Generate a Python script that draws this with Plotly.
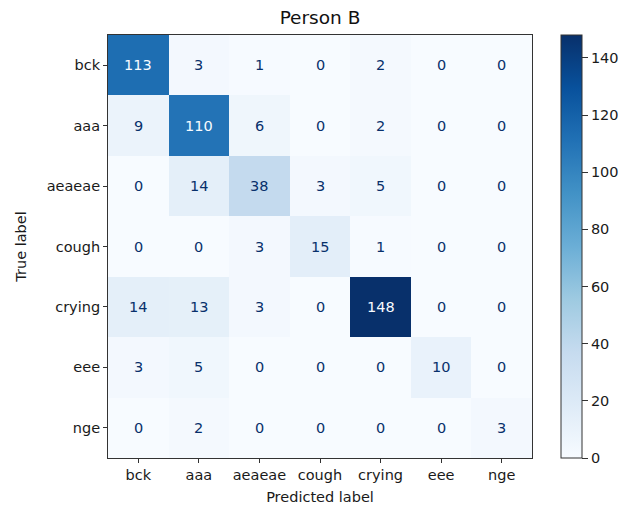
import plotly.graph_objects as go

# Class labels and confusion-matrix counts (rows = true, columns = predicted)
labels = ["bck", "aaa", "aeaeae", "cough", "crying", "eee", "nge"]
counts = [
    [113, 3, 1, 0, 2, 0, 0],
    [9, 110, 6, 0, 2, 0, 0],
    [0, 14, 38, 3, 5, 0, 0],
    [0, 0, 3, 15, 1, 0, 0],
    [14, 13, 3, 0, 148, 0, 0],
    [3, 5, 0, 0, 0, 10, 0],
    [0, 2, 0, 0, 0, 0, 3],
]
title = "Person B"
cbar_ticks = [0, 20, 40, 60, 80, 100, 120, 140]

FONT = "DejaVu Sans"
DARK = "#08306b"
LIGHT = "#f7fbff"
TXT = "#1a1a1a"
FS = 14.5

vmax = max(max(r) for r in counts)
vmin = min(min(r) for r in counts)
thresh = (vmax + vmin) / 2.0

fig = go.Figure(
    go.Heatmap(
        z=counts,
        x=labels,
        y=labels,
        colorscale="Blues",
        zmin=vmin,
        zmax=vmax,
        hoverinfo="skip",
        colorbar=dict(
            x=1.068,
            xanchor="left",
            y=0.5,
            yanchor="middle",
            len=1.0,
            lenmode="fraction",
            thickness=21,
            outlinecolor="#333",
            outlinewidth=1,
            tickvals=cbar_ticks,
            ticks="outside",
            ticklen=6,
            tickcolor="#333",
            tickfont=dict(family=FONT, size=FS, color=TXT),
            ypad=0,
            xpad=0,
        ),
    )
)

# Cell value labels, light text on dark cells
annotations = []
for i, row in enumerate(counts):
    for j, v in enumerate(row):
        annotations.append(
            dict(
                x=labels[j],
                y=labels[i],
                text=str(v),
                showarrow=False,
                font=dict(family=FONT, size=FS, color=LIGHT if v >= thresh else DARK),
            )
        )

fig.update_layout(
    width=624,
    height=507,
    margin=dict(l=108, r=92, t=35, b=49, autoexpand=False),
    paper_bgcolor="white",
    plot_bgcolor="white",
    annotations=annotations,
    title=dict(
        text=title,
        x=(108 + 532) / 2 / 624,
        xanchor="center",
        y=1 - 18 / 507,
        yanchor="middle",
        font=dict(family=FONT, size=18.5, color="#111"),
    ),
    font=dict(family=FONT, size=FS, color=TXT),
)

axis_common = dict(
    showline=True,
    linecolor="#333",
    linewidth=1,
    mirror=True,
    ticks="outside",
    ticklen=4,
    tickcolor="#333",
    showgrid=False,
    zeroline=False,
    automargin=False,
    tickfont=dict(family=FONT, size=FS, color=TXT),
)
fig.update_xaxes(
    title=dict(text="Predicted label", font=dict(family=FONT, size=FS, color=TXT), standoff=9),
    **axis_common,
)
fig.update_yaxes(
    title=dict(text="True label", font=dict(family=FONT, size=FS, color=TXT), standoff=16),
    autorange="reversed",
    **axis_common,
)

fig.write_html("out.html")
